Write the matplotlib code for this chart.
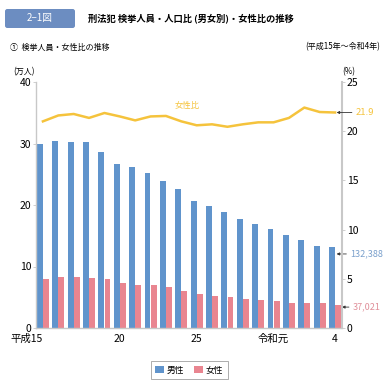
#!/usr/bin/env python3

import matplotlib
matplotlib.use("Agg")
import matplotlib.pyplot as plt
from matplotlib.patches import FancyBboxPatch
from matplotlib.transforms import ScaledTranslation
import numpy as np

plt.rcParams["font.family"] = ["Noto Sans CJK JP", "DejaVu Sans"]
NARROW = ["Liberation Sans Narrow", "Noto Sans CJK JP"]

# 平成15年 .. 令和4年 (20 years)
years = list(range(20))
male = [29.9, 30.4, 30.3, 30.2, 28.6, 26.6, 26.2, 25.2, 23.9, 22.6,
        20.6, 19.8, 18.8, 17.8, 16.9, 16.1, 15.1, 14.3, 13.4, 13.24]
female = [7.9, 8.3, 8.3, 8.1, 7.9, 7.3, 7.0, 7.0, 6.6, 6.0,
          5.5, 5.2, 5.0, 4.7, 4.5, 4.4, 4.1, 4.0, 4.0, 3.70]
ratio = [21.0, 21.6, 21.75, 21.35, 21.85, 21.5, 21.1, 21.5, 21.55, 21.0,
         20.6, 20.7, 20.45, 20.7, 20.9, 20.9, 21.35, 22.4, 21.95, 21.9]

tick_pos = [0, 5, 10, 16, 19]
tick_lab = ["平成15", "20", "25", "令和元", "4"]

BLUE = "#6094cc"
PINK = "#e98590"
YELLOW = "#f5c33c"
GRAY = "#c8c8c8"

fig = plt.figure(figsize=(3.87, 3.87), dpi=100)

# header
box = FancyBboxPatch((5 / 387, 1 - 28 / 387), 70 / 387, 19 / 387,
                     boxstyle="round,pad=0,rounding_size=0.006",
                     transform=fig.transFigure, fc="#6c8dc1", ec="none")
fig.patches.append(box)
fig.text(40 / 387, 1 - 18.5 / 387, "2−1図", color="white", fontsize=7,
         ha="center", va="center", family=NARROW)
fig.text(88 / 387, 1 - 18.5 / 387, "刑法犯 検挙人員・人口比 (男女別)・女性比の推移",
         fontsize=6.7, fontweight="bold", ha="left", va="center")
fig.text(10 / 387, 1 - 47 / 387, "①  検挙人員・女性比の推移", fontsize=5.8,
         ha="left", va="center")
fig.text(380 / 387, 1 - 47 / 387, "(平成15年～令和4年)", fontsize=5.8,
         ha="right", va="center")
fig.text(24 / 387, 1 - 72 / 387, "(万人)", fontsize=5.8, ha="center", va="center")
fig.text(349 / 387, 1 - 72 / 387, "(%)", fontsize=5.8, ha="center", va="center")

ax = fig.add_axes([36 / 387, 1 - 328 / 387, 306 / 387, 246 / 387])
x = np.array(years)
w = 0.38
ax.bar(x - 0.2, male, w, color=BLUE, label="男性", zorder=2)
ax.bar(x + 0.2, female, w, color=PINK, label="女性", zorder=2)
ax.set_xlim(-0.45, 19.45)
ax.set_ylim(0, 40)
ax.set_yticks([0, 10, 20, 30, 40])
ax.set_xticks(tick_pos)
ax.set_xticklabels(tick_lab, family=NARROW, fontsize=7.5)
# keep the final digit/char of era labels centered on the tick
for lab in ax.get_xticklabels():
    t = lab.get_text()
    if t in ("平成15", "令和元"):
        lab.set_ha("right")
        shift = 4.5 / 72 if t == "平成15" else 3.5 / 72
        lab.set_transform(lab.get_transform() + ScaledTranslation(shift, 0, fig.dpi_scale_trans))
for lab in ax.get_yticklabels():
    lab.set_family(NARROW)
ax.tick_params(axis="x", length=0, pad=4)
ax.tick_params(axis="y", length=2, width=0.6, color=GRAY, labelsize=7.5, pad=1.5)
for s in ["top", "right"]:
    ax.spines[s].set_visible(False)
for s in ["left", "bottom"]:
    ax.spines[s].set_color(GRAY)
    ax.spines[s].set_linewidth(1.0)

ax2 = ax.twinx()
ax2.plot(x, ratio, color=YELLOW, lw=1.8, zorder=3)
ax2.set_ylim(0, 25)
ax2.set_yticks([0, 5, 10, 15, 20, 25])
for lab in ax2.get_yticklabels():
    lab.set_family(NARROW)
ax2.tick_params(axis="y", length=2, width=0.6, color=GRAY, labelsize=7.5, pad=1.5)
for s in ["top", "left", "bottom"]:
    ax2.spines[s].set_visible(False)
ax2.spines["right"].set_color(GRAY)
ax2.spines["right"].set_linewidth(1.5)

ax2.text(9.4, 22.6, "女性比", color=YELLOW, fontsize=6, ha="center", va="center")

arrow = dict(arrowstyle="-|>", color="#333333", lw=0.6, mutation_scale=4,
             shrinkA=1, shrinkB=0)
ax2.annotate("21.9", xy=(19.1, ratio[-1]), xytext=(14, 0), textcoords="offset points",
             color=YELLOW, fontsize=6.8, va="center", family=NARROW,
             arrowprops=arrow, annotation_clip=False)
ax.annotate("132,388", xy=(19.1, male[-1] - 1.2), xytext=(10, 0), textcoords="offset points",
            color="#7aa0cc", fontsize=6.5, va="center", family=NARROW,
            arrowprops=arrow, annotation_clip=False)
ax.annotate("37,021", xy=(19.45, female[-1] - 0.3), xytext=(8, 0), textcoords="offset points",
            color="#e0909a", fontsize=6.5, va="center", family=NARROW,
            arrowprops=arrow, annotation_clip=False)

leg = fig.legend(loc="center", bbox_to_anchor=(189 / 387, 1 - 370 / 387), ncol=2,
                 fontsize=6.3, frameon=True, fancybox=False, handlelength=1.0,
                 handleheight=1.0, handletextpad=0.3, columnspacing=1.2,
                 borderpad=0.5)
leg.get_frame().set_edgecolor("#888888")
leg.get_frame().set_linewidth(0.6)

fig.savefig("out.png", dpi=100)
